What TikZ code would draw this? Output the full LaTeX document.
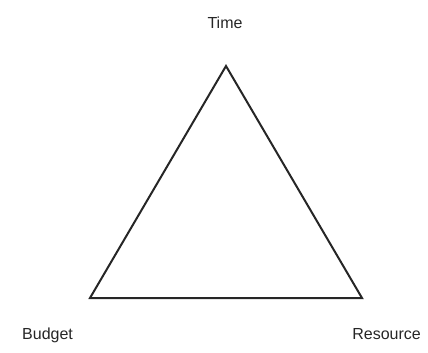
\documentclass[tikz,border=0pt]{standalone}
\usepackage{fontspec}
\setmainfont{Liberation Sans}
\begin{document}
\begin{tikzpicture}[x=1pt,y=-1pt,
  lbl/.style={font=\fontsize{16}{18}\selectfont, inner sep=0pt, text=black!85},
  edge/.style={draw=black!85, line width=2pt, line join=miter}]
\useasboundingbox (0,0) rectangle (428,353);
\coordinate (top) at (226,66);
\coordinate (bl) at (90,298);
\coordinate (br) at (362,298);
\draw[edge] (top) -- (bl) -- (br) -- cycle;
\node[lbl, anchor=base] (time) at (225,29) {Time};
\node[lbl, anchor=base west] (budget) at (22,339) {Budget};
\node[lbl, anchor=base east] (resource) at (421,339) {Resource};
\end{tikzpicture}
\end{document}
